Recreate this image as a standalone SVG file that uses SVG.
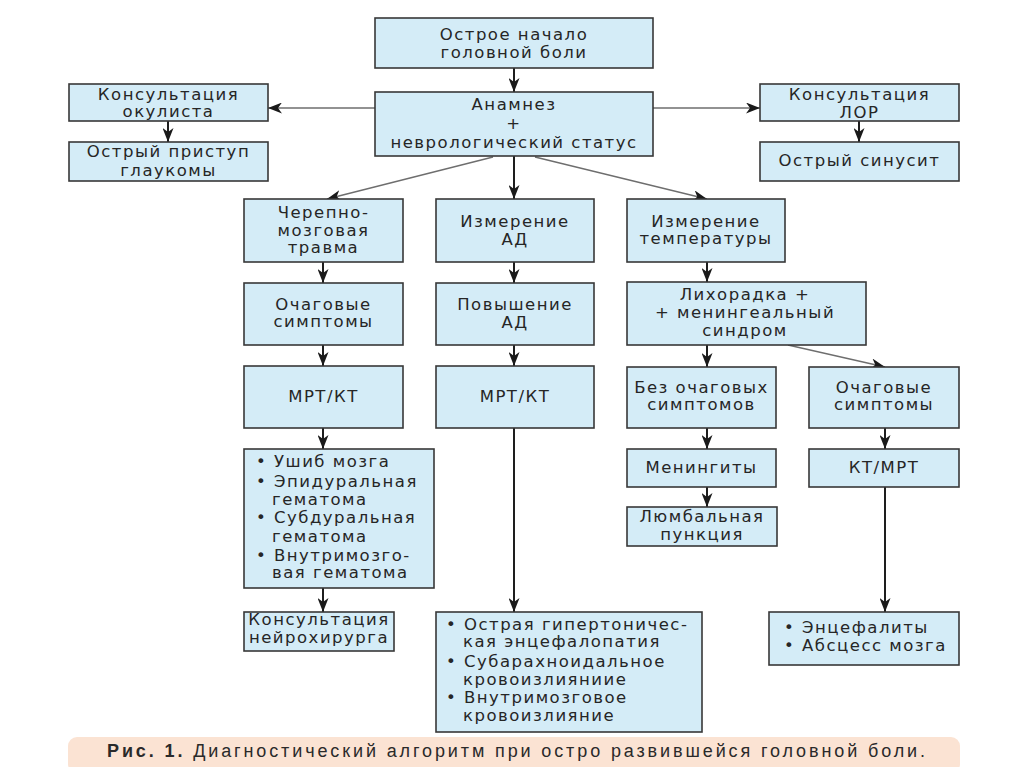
<svg xmlns="http://www.w3.org/2000/svg" width="1024" height="767" viewBox="0 0 1024 767">
<defs>
<marker id="ah" viewBox="0 0 14 11" refX="14" refY="5.5" markerWidth="14" markerHeight="11" markerUnits="userSpaceOnUse" orient="auto">
<path d="M0,0 L14,5.5 L0,11 L4,5.5 Z" fill="#1a1a1a"/>
</marker>
</defs>
<style>
.b{fill:#d4ecf7;stroke:#383838;stroke-width:1.6}
.t{font-family:"DejaVu Sans",sans-serif;font-size:16.5px;letter-spacing:1.5px;fill:#262626;text-anchor:middle}
.l{font-family:"DejaVu Sans",sans-serif;font-size:16.5px;letter-spacing:1.5px;fill:#262626}
.v{stroke:#1e1e1e;stroke-width:2;fill:none;marker-end:url(#ah)}
.d{stroke:#6e6e6e;stroke-width:1.3;fill:none;marker-end:url(#ah)}
.cap{font-family:"Liberation Sans",Arial,sans-serif;font-size:18px;fill:#2a2a2a}
</style>
<rect width="1024" height="767" fill="#ffffff"/>
<g id="connectors">
<line class="v" x1="514" y1="68" x2="514" y2="92"/>
<line class="d" x1="375" y1="108" x2="268" y2="108"/>
<line class="d" x1="653" y1="108" x2="760" y2="108"/>
<line class="v" x1="168" y1="121" x2="168" y2="142"/>
<line class="v" x1="859" y1="121" x2="859" y2="142"/>
<line class="v" x1="514" y1="156" x2="514" y2="199"/>
<line class="d" x1="493" y1="157" x2="327" y2="199"/>
<line class="d" x1="535" y1="157" x2="707" y2="199"/>
<line class="v" x1="323" y1="262" x2="323" y2="283"/>
<line class="v" x1="323" y1="345" x2="323" y2="366"/>
<line class="v" x1="323" y1="428" x2="323" y2="449"/>
<line class="v" x1="323" y1="588" x2="323" y2="612"/>
<line class="v" x1="514" y1="262" x2="514" y2="283"/>
<line class="v" x1="514" y1="345" x2="514" y2="366"/>
<line class="v" x1="514" y1="428" x2="514" y2="612"/>
<line class="v" x1="707" y1="262" x2="707" y2="282"/>
<line class="v" x1="707" y1="345" x2="707" y2="367"/>
<line class="d" x1="788" y1="345" x2="885" y2="367"/>
<line class="v" x1="707" y1="428" x2="707" y2="449"/>
<line class="v" x1="707" y1="487" x2="707" y2="507"/>
<line class="v" x1="885" y1="428" x2="885" y2="449"/>
<line class="v" x1="885" y1="487" x2="885" y2="612"/>
</g>
<g id="n1"><rect class="b" x="375" y="18" width="278" height="50"/>
<text class="t" x="514" y="40">Острое начало</text><text class="t" x="514" y="58">головной боли</text></g>
<g id="n2"><rect class="b" x="375" y="92" width="278" height="64"/>
<text class="t" x="514" y="110">Анамнез</text><text class="t" x="514" y="129">+</text><text class="t" x="514" y="148">неврологический статус</text></g>
<g id="n3"><rect class="b" x="69" y="84" width="199" height="37"/>
<text class="t" x="168.5" y="100">Консультация</text><text class="t" x="168.5" y="117">окулиста</text></g>
<g id="n4"><rect class="b" x="69" y="142" width="199" height="39"/>
<text class="t" x="168.5" y="157">Острый приступ</text><text class="t" x="168.5" y="176">глаукомы</text></g>
<g id="n5"><rect class="b" x="760" y="84" width="199" height="37"/>
<text class="t" x="859.5" y="100">Консультация</text><text class="t" x="859.5" y="118">ЛОР</text></g>
<g id="n6"><rect class="b" x="760" y="142" width="199" height="39"/>
<text class="t" x="859.5" y="166">Острый синусит</text></g>
<g id="n7"><rect class="b" x="244" y="199" width="159" height="63"/>
<text class="t" x="323.5" y="218">Черепно-</text><text class="t" x="323.5" y="236">мозговая</text><text class="t" x="323.5" y="253">травма</text></g>
<g id="n8"><rect class="b" x="436" y="199" width="158" height="63"/>
<text class="t" x="515" y="227">Измерение</text><text class="t" x="515" y="245">АД</text></g>
<g id="n9"><rect class="b" x="627" y="199" width="158" height="63"/>
<text class="t" x="706" y="227">Измерение</text><text class="t" x="706" y="244">температуры</text></g>
<g id="n10"><rect class="b" x="244" y="283" width="159" height="62"/>
<text class="t" x="323.5" y="310">Очаговые</text><text class="t" x="323.5" y="327">симптомы</text></g>
<g id="n11"><rect class="b" x="436" y="283" width="158" height="62"/>
<text class="t" x="515" y="310">Повышение</text><text class="t" x="515" y="328">АД</text></g>
<g id="n12"><rect class="b" x="627" y="282" width="239" height="63"/>
<text class="t" x="745" y="300">Лихорадка +</text><text class="t" x="745" y="318">+ менингеальный</text><text class="t" x="745" y="336">синдром</text></g>
<g id="n13"><rect class="b" x="244" y="366" width="159" height="62"/>
<text class="t" x="323.5" y="402">МРТ/КТ</text></g>
<g id="n14"><rect class="b" x="436" y="366" width="158" height="62"/>
<text class="t" x="515" y="402">МРТ/КТ</text></g>
<g id="n15"><rect class="b" x="627" y="367" width="149" height="61"/>
<text class="t" x="701.5" y="393">Без очаговых</text><text class="t" x="701.5" y="410">симптомов</text></g>
<g id="n16"><rect class="b" x="809" y="367" width="150" height="61"/>
<text class="t" x="884" y="393">Очаговые</text><text class="t" x="884" y="410">симптомы</text></g>
<g id="n17"><rect class="b" x="244" y="449" width="190" height="139"/>
<text class="l" x="256" y="467">• Ушиб мозга</text>
<text class="l" x="256" y="487">• Эпидуральная</text>
<text class="l" x="272" y="505">гематома</text>
<text class="l" x="256" y="523">• Субдуральная</text>
<text class="l" x="272" y="542">гематома</text>
<text class="l" x="256" y="561">• Внутримозго-</text>
<text class="l" x="272" y="578">вая гематома</text></g>
<g id="n18"><rect class="b" x="627" y="449" width="149" height="38"/>
<text class="t" x="701.5" y="473">Менингиты</text></g>
<g id="n19"><rect class="b" x="809" y="449" width="150" height="38"/>
<text class="t" x="884" y="473">КТ/МРТ</text></g>
<g id="n20"><rect class="b" x="627" y="507" width="150" height="39"/>
<text class="t" x="702" y="522">Люмбальная</text><text class="t" x="702" y="540">пункция</text></g>
<g id="n21"><rect class="b" x="244" y="612" width="150" height="39"/>
<text class="t" x="319" y="625">Консультация</text><text class="t" x="319" y="643">нейрохирурга</text></g>
<g id="n22"><rect class="b" x="436" y="612" width="266" height="120"/>
<text class="l" x="446" y="630">• Острая гипертоничес-</text>
<text class="l" x="463" y="647">кая энцефалопатия</text>
<text class="l" x="446" y="667">• Субарахноидальное</text>
<text class="l" x="463" y="685">кровоизлияниие</text>
<text class="l" x="446" y="703">• Внутримозговое</text>
<text class="l" x="463" y="721">кровоизлияние</text></g>
<g id="n23"><rect class="b" x="769" y="612" width="190" height="53"/>
<text class="l" x="784" y="633">• Энцефалиты</text>
<text class="l" x="784" y="651">• Абсцесс мозга</text></g>
<g id="caption">
<rect x="68" y="737" width="892" height="36" rx="9" fill="#fbe3d3"/>
<text class="cap" x="107" y="757" textLength="818" lengthAdjust="spacing"><tspan font-weight="bold">Рис. 1.</tspan> Диагностический алгоритм при остро развившейся головной боли.</text>
</g>
</svg>
